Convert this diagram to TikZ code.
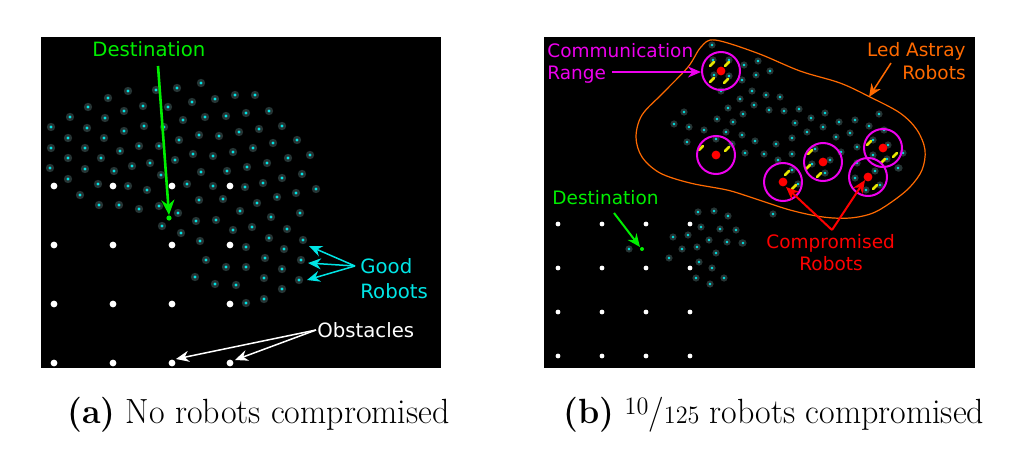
\documentclass[tikz,border=0pt]{standalone}
\usepackage{fontspec}
\newfontfamily\dv{DejaVu Sans}
\usetikzlibrary{arrows.meta}
\definecolor{robotc}{HTML}{00E5E5}
\definecolor{haloc}{HTML}{263434}
\definecolor{greenc}{HTML}{00EE00}
\definecolor{magc}{HTML}{EE00EE}
\definecolor{orangec}{HTML}{FF6A00}
\definecolor{redc}{HTML}{FF0000}
\definecolor{yelc}{HTML}{E6E600}
\tikzset{
  lbl/.style={inner sep=0pt, font=\dv\fontsize{9.85}{11}\selectfont},
  lblr/.style={inner sep=0pt, font=\dv\fontsize{9.25}{11}\selectfont},
  arr/.style={line width=0.75pt, -{Stealth[length=6.5pt,width=5.5pt]}},
  commring/.style={draw=magc, line width=1pt},
  captext/.style={inner sep=0pt, anchor=base west, font=\fontsize{17.5}{20}\selectfont},
}
\begin{document}
\begin{tikzpicture}[x=0.5pt,y=-0.5pt]
\useasboundingbox[fill=white] (0,0) rectangle (1020,460);
% panels
\fill[black] (41,37) rectangle (441,368);
\fill[black] (544,37) rectangle (975,368);

% ---------- left panel ----------
\foreach \x in {54,113,172,230} \foreach \y in {186,245,304,363}
  \fill[white] (\x,\y) circle (1.7pt);
\foreach \x/\y in {201/83,128/91,156/90,177/88,235/95,215/99,108/98,192/102,88/107,143/106,168/107,246/113,124/111,70/117,105/118,205/117,226/116,183/120,51/127,87/128,144/126,164/127,124/131,239/132,199/135,219/136,68/138,104/138,179/140,139/146,159/146,51/148,85/148,233/152,120/151,193/154,213/156,68/158,101/158,150/163,175/160,247/167,132/166,50/168,85/169,114/171,227/171,201/172,161/175,68/179,98/184,128/186,187/184,213/186,245/187,147/190,80/195,199/200,223/199,
255/95,269/111,282/126,259/129,273/143,297/140,253/148,310/155,288/158,267/163,302/174,282/178,263/183,316/189,296/193,277/197,
99/205,119/205,139/209,159/206,178/213,240/211,216/220,196/221,162/226,181/233,233/230,200/241,246/247,206/260,226/267,246/267,195/277,215/284,236/285,246/303,
257/203,300/213,271/217,252/227,287/229,269/238,303/240,284/249,265/258,301/260,282/269,264/278,299/280,282/289,264/299}
{ \fill[haloc] (\x,\y) circle (2.1pt); \fill[robotc] (\x,\y) circle (0.8pt); }
% destination
\fill[greenc] (169,218) circle (1.3pt);
\coordinate (dstA) at (169,215);
\node[lbl, anchor=base west, text=greenc] (destA) at (92,57) {Destination};
\coordinate (dstAs) at (158,66);
\draw[greenc, line width=1.3pt, -{Stealth[length=7.5pt,width=6.5pt]}] (dstAs) -- (dstA);
% good robots
\node[lbl, anchor=base west, text=robotc] (goodA) at (360,273) {Good};
\node[lbl, anchor=base west, text=robotc] (goodB) at (360,298) {Robots};
\coordinate (gs) at (355,266);
\coordinate (g1) at (309,246);
\coordinate (g2) at (308,263);
\coordinate (g3) at (307,280);
\foreach \t in {g1,g2,g3} \draw[arr, robotc] (gs) -- (\t);
% obstacles
\node[lbl, anchor=base west, text=white] (obs) at (317,337) {Obstacles};
\coordinate (os) at (316,330);
\coordinate (o1) at (176,359);
\coordinate (o2) at (235,360);
\draw[arr, white] (os) -- (o1);
\draw[arr, white] (os) -- (o2);

% ---------- right panel ----------
\foreach \x in {558,602,646,690} \foreach \y in {224,268,312,356}
  \fill[white] (\x,\y) circle (1.2pt);
% led astray contour
\draw[orangec, line width=0.6pt] plot[smooth cycle, tension=0.55] coordinates {
 (715,40) (757,53) (800,71) (840,83) (870,97) (900,113) (917,130) (925,150) (922,170) (910,187) (893,201) (873,213) (850,218) (823,217) (790,210) (750,197) (727,190) (690,183) (660,173) (642,157) (636,137) (642,115) (663,93) (688,67) (701,47)};
% robots
\foreach \x/\y in {698/212,714/211,728/216,701/227,720/229,736/230,688/235,673/237,709/240,727/242,742/243,697/247,682/249,716/253,669/258,699/262,712/268,696/278,724/278,710/284,629/249,773/214,743/243,
712/45,744/65,742/80,740/99,728/108,743/114,684/112,674/124,689/127,704/130,717/119,733/122,726/132,742/135,687/142,716/139,732/144,745/153,721/91,
758/61,770/71,756/75,752/91,780/97,766/95,754/105,769/110,784/111,799/109,811/118,825/113,839/122,855/120,879/114,795/123,823/127,869/126,807/132,850/133,836/137,884/130,755/141,776/144,792/138,857/147,841/152,764/154,792/154,778/160,899/168,903/153,
713/60,729/60,714/75,729/76,792/170,798/184,815/149,812/164,825/173,830/160,855/178,857/163,875/171,880/185,866/190,873/140,888/145,873/155,887/159,898/168}
{ \fill[haloc] (\x,\y) circle (1.8pt); \fill[robotc] (\x,\y) circle (0.7pt); }
% yellow trails
\foreach \x/\y in {712/64,727/64,712/80,726/81,701/148,727/149,787/173,794/187,810/152,808/167,819/175,875/187,869/143,883/161,895/155}
  \draw[yelc, line width=1.3pt, line cap=round] (\x-2,\y+2) -- (\x+2,\y-2);
% compromised + rings
\foreach \x/\y [count=\i] in {721/71,716/155,783/182,823/162,868/177,883/148}
{ \draw[commring] (\x,\y) circle (9.5pt); \fill[redc] (\x,\y) circle (2.2pt);
  \coordinate (c\i) at (\x,\y); }
% labels right
\node[lblr, anchor=base west, text=magc] (comm1) at (547,58) {Communication};
\node[lblr, anchor=base west, text=magc] (comm2) at (547,80) {Range};
\coordinate (cs) at (612,72);
\coordinate (ce) at (701,72);
\draw[arr, magc, line width=1pt] (cs) -- (ce);
\node[lblr, anchor=base east, text=orangec] (led1) at (966,57) {Led Astray};
\node[lblr, anchor=base east, text=orangec] (led2) at (966,80) {Robots};
\coordinate (ls) at (891,63);
\coordinate (le) at (869,97);
\draw[arr, orangec] (ls) -- (le);
\node[lblr, anchor=base west, text=redc] (comp1) at (766,248) {Compromised};
\node[lblr, anchor=base west, text=redc] (comp2) at (799,270) {Robots};
\coordinate (rs) at (832,230);
\coordinate (r1) at (786,187);
\coordinate (r2) at (865,180);
\draw[arr, redc, line width=1pt] (rs) -- (r1);
\draw[arr, redc, line width=1pt] (rs) -- (r2);
\node[lblr, anchor=base west, text=greenc] (destB) at (552,204) {Destination};
\fill[greenc] (642,249) circle (1pt);
\coordinate (dbs) at (614,213);
\coordinate (dbe) at (640,247);
\draw[arr, greenc, line width=1pt] (dbs) -- (dbe);

% captions
\node[captext] (capa) at (67,423) {\scalebox{0.97}[1]{\textbf{(a)} No robots compromised}};
\node[captext] (capb) at (563,423) {\scalebox{0.97}[1]{\textbf{(b)} \raisebox{0.55ex}{\fontsize{12.5}{14}\selectfont 10}/{\fontsize{12.5}{14}\selectfont 125} robots compromised}};
\end{tikzpicture}
\end{document}
